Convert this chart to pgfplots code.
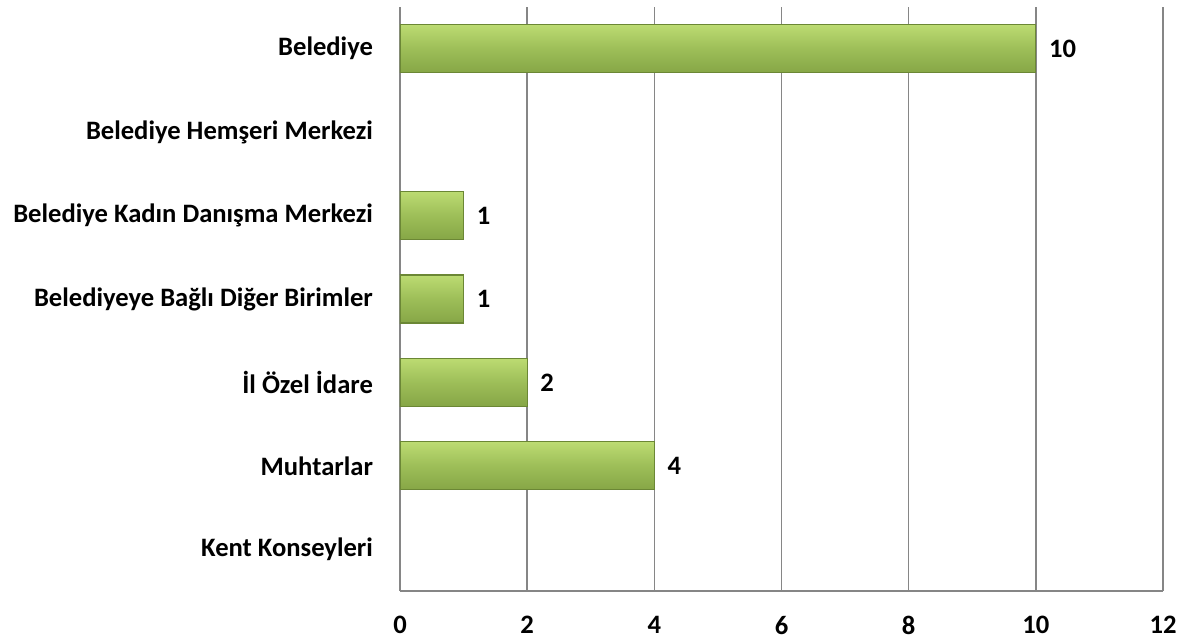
\documentclass[border=0pt]{standalone}
\usepackage{fontspec}
\setmainfont{Carlito}
\usepackage{pgfplots}
\pgfplotsset{compat=1.18}
\definecolor{barmid}{HTML}{9DBE58}
\definecolor{bartop}{HTML}{BCDB72}
\definecolor{barbot}{HTML}{86A646}
\definecolor{baredge}{HTML}{6B8735}
\definecolor{gridc}{HTML}{868686}
\pgfplotsset{greenbar/.style={draw=baredge, line width=0.6pt, top color=bartop, bottom color=barbot, middle color=barmid, bar shift=0pt}}
\begin{document}
\begin{tikzpicture}
\begin{axis}[
  name=ax,
  scale only axis,
  width=381.5pt, height=292pt,
  xbar, bar width=24pt,
  xmin=0, xmax=12, xtick={0,2,...,12},
  ymin=-0.5, ymax=6.5, y dir=reverse,
  ytick={0,1,2,3,4,5,6},
  yticklabels={Belediye, Belediye Hemşeri Merkezi, Belediye Kadın Danışma Merkezi, Belediyeye Bağlı Diğer Birimler, İl Özel İdare, Muhtarlar, Kent Konseyleri},
  axis x line*=bottom, axis y line*=left,
  axis line style={gridc, line width=0.8pt},
  xmajorgrids, major grid style={gridc, line width=0.8pt},
  major tick length=0pt,
  /pgf/number format/assume math mode=true,
  tick label style={font=\bfseries\fontsize{13.3}{15}\selectfont, black},
  yticklabel style={xshift=-10pt},
  xticklabel style={yshift=-9pt},
  point meta=explicit symbolic,
  nodes near coords,
  nodes near coords style={font=\bfseries\fontsize{13.3}{15}\selectfont, anchor=west, xshift=3pt},
]
\addplot[greenbar] coordinates {(10,0) [10]};
\addplot[greenbar] coordinates {(1,2) [1]};
\addplot[greenbar] coordinates {(1,3) [1]};
\addplot[greenbar] coordinates {(2,4) [2]};
\addplot[greenbar] coordinates {(4,5) [4]};
\end{axis}
\pgfresetboundingbox
\path (ax.south west) ++(-200pt,-24pt) rectangle ++(593pt,319.5pt);
\end{tikzpicture}
\end{document}
